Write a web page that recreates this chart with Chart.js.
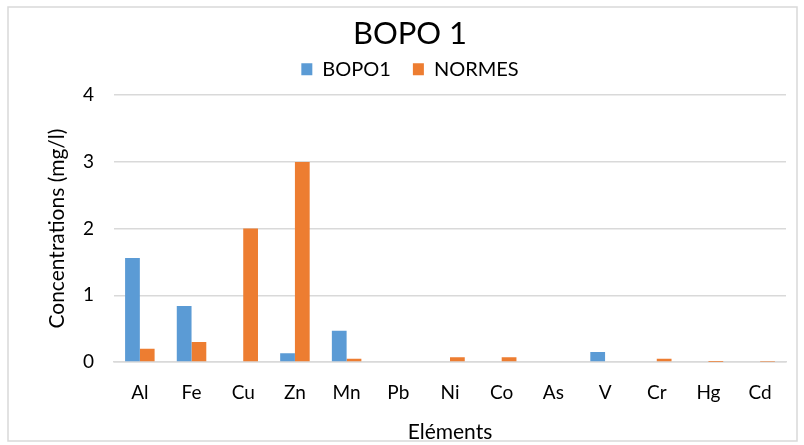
<!DOCTYPE html>
<html>
<head>
<meta charset="utf-8">
<script src="https://cdn.jsdelivr.net/npm/chart.js@4"></script>
<style>
  html, body { margin: 0; padding: 0; background: #fff; }
  #wrap { width: 804px; height: 445px; position: relative; }
</style>
</head>
<body>
<div id="wrap"><canvas id="c" width="804" height="445"></canvas></div>
<script>
const elements = ['Al', 'Fe', 'Cu', 'Zn', 'Mn', 'Pb', 'Ni', 'Co', 'As', 'V', 'Cr', 'Hg', 'Cd'];
const bopo1 = [1.56, 0.84, 0, 0.13, 0.47, 0, 0, 0, 0, 0.15, 0, 0, 0];
const normes = [0.20, 0.30, 2, 3, 0.05, 0.01, 0.07, 0.07, 0.01, 0, 0.05, 0.001, 0.003];
const yTicks = [0, 1, 2, 3, 4];

const FONT = 'Lato';

// light frame around the whole chart
const framePlugin = {
  id: 'frame',
  afterDraw(chart) {
    const ctx = chart.ctx;
    ctx.save();
    ctx.strokeStyle = '#d9d9d9';
    ctx.lineWidth = 1.5;
    ctx.strokeRect(8, 7, 789, 434);
    ctx.restore();
  }
};

// wide horizontal spacing between legend items, with a tuned legend box height
const legendHeight = {
  id: 'legendHeight',
  beforeLayout(chart) {
    const lg = chart.legend;
    if (!lg || lg._tuned) return;
    const fit = lg.fit;
    lg.fit = function () {
      fit.call(this);
      this.height += 6;
    };
    lg._tuned = true;
  }
};

new Chart(document.getElementById('c'), {
  type: 'bar',
  data: {
    labels: elements,
    datasets: [
      { label: 'BOPO1', data: bopo1, backgroundColor: '#5b9bd5' },
      { label: 'NORMES', data: normes, backgroundColor: '#ed7d31' }
    ]
  },
  options: {
    responsive: false,
    animation: false,
    devicePixelRatio: 1,
    layout: { padding: { left: 34, right: 18, top: 0, bottom: 0 } },
    datasets: { bar: { categoryPercentage: 0.571, barPercentage: 1.0 } },
    plugins: {
      title: {
        display: true,
        text: 'BOPO 1',
        color: '#000',
        font: { family: FONT, size: 31, weight: 'normal' },
        padding: { top: 15, bottom: -15 }
      },
      legend: {
        position: 'top',
        labels: {
          color: '#000',
          font: { family: FONT, size: 20 },
          boxWidth: 11,
          boxHeight: 12,
          padding: 22
        }
      },
      tooltip: { enabled: false }
    },
    scales: {
      x: {
        grid: { display: false },
        border: { display: true, color: '#d9d9d9', width: 1.5 },
        ticks: { color: '#000', font: { family: FONT, size: 19 }, padding: 11 },
        title: {
          display: true,
          text: 'Eléments',
          color: '#000',
          font: { family: FONT, size: 21 },
          padding: { top: 3, bottom: 0 }
        },
        afterFit(scale) { scale.height = 83; }
      },
      y: {
        min: 0,
        max: 4,
        afterBuildTicks(scale) { scale.ticks = yTicks.map(v => ({ value: v })); },
        grid: { color: '#d9d9d9', lineWidth: 1.5, drawTicks: false },
        border: { display: false },
        ticks: { color: '#000', font: { family: FONT, size: 19 }, padding: 20 },
        title: {
          display: true,
          text: 'Concentrations (mg/l)',
          color: '#000',
          font: { family: FONT, size: 21 },
          padding: { top: 11, bottom: 0 }
        },
        afterFit(scale) { scale.width = 80; }
      }
    }
  },
  plugins: [framePlugin, legendHeight]
});
</script>
</body>
</html>
